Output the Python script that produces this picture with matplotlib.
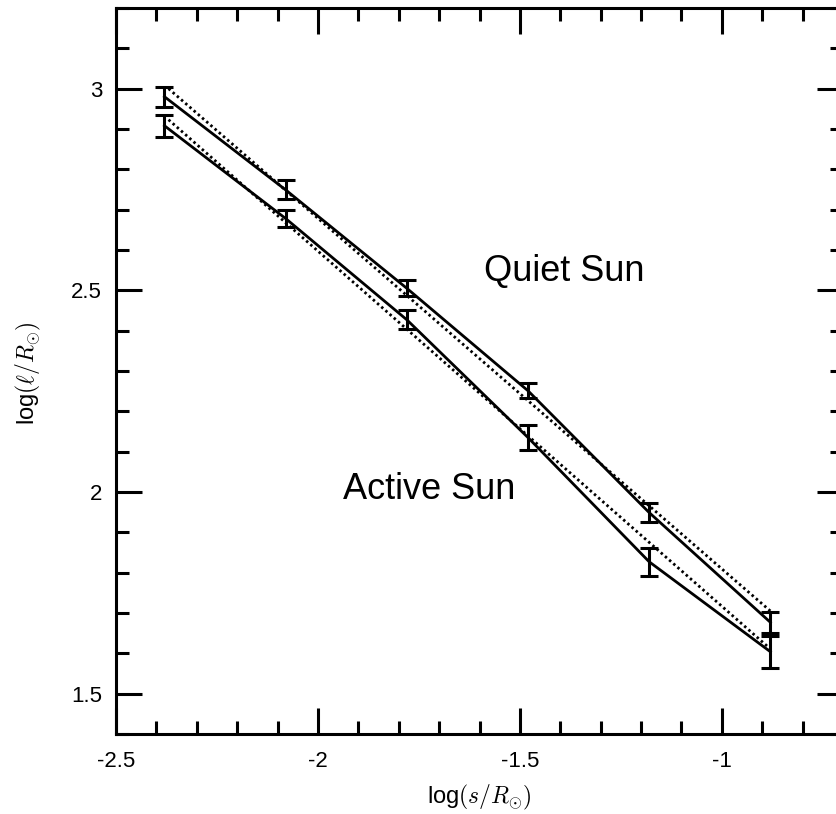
import matplotlib
matplotlib.use('Agg')
import matplotlib.pyplot as plt
from matplotlib.ticker import MultipleLocator

plt.rcParams['font.family'] = ['Liberation Sans', 'DejaVu Sans']
plt.rcParams['mathtext.fontset'] = 'cm'

# data
log_s = [-2.38, -2.08, -1.78, -1.48, -1.18, -0.88]
quiet = [2.980, 2.749, 2.505, 2.251, 1.949, 1.677]
quiet_err = [0.025, 0.0235, 0.020, 0.019, 0.0235, 0.026]
active = [2.908, 2.678, 2.427, 2.135, 1.827, 1.604]
active_err = [0.027, 0.022, 0.0235, 0.031, 0.035, 0.040]

# power-law fits (end points of the dotted lines)
fit_x = [-2.37, -0.88]
quiet_fit = [3.00, 1.705]
active_fit = [2.923, 1.611]

fig = plt.figure(figsize=(8.37, 8.14), dpi=100)
ax = fig.add_axes([0.1386, 0.0983, 0.8686, 0.8919])

ax.errorbar(log_s, quiet, yerr=quiet_err, color='black', lw=2.0,
            elinewidth=2.2, capsize=6.8, capthick=2.2)
ax.errorbar(log_s, active, yerr=active_err, color='black', lw=2.0,
            elinewidth=2.2, capsize=6.8, capthick=2.2)
ax.plot(fit_x, quiet_fit, color='black', lw=2.0, ls=(0, (0.9, 1.1)))
ax.plot(fit_x, active_fit, color='black', lw=2.0, ls=(0, (0.9, 1.1)))

ax.text(-1.391, 2.547, 'Quiet Sun', fontsize=26, ha='center', va='center')
ax.text(-1.725, 2.007, 'Active Sun', fontsize=26, ha='center', va='center')

ax.set_xlim(-2.5, -0.7)
ax.set_ylim(1.4, 3.2)
ax.xaxis.set_major_locator(MultipleLocator(0.5))
ax.xaxis.set_minor_locator(MultipleLocator(0.1))
ax.yaxis.set_major_locator(MultipleLocator(0.5))
ax.yaxis.set_minor_locator(MultipleLocator(0.1))
ax.set_xticks([-2.5, -2, -1.5, -1])
ax.set_xticklabels(['-2.5', '-2', '-1.5', '-1'])
ax.set_yticks([1.5, 2, 2.5, 3])
ax.set_yticklabels(['1.5', '2', '2.5', '3'])

ax.tick_params(which='both', direction='in', top=True, right=True,
               width=2.2, labelsize=16, color='black')
ax.tick_params(which='major', length=18.7)
ax.tick_params(which='minor', length=9.4)
ax.tick_params(axis='x', pad=12)
ax.tick_params(axis='y', pad=10)
for sp in ax.spines.values():
    sp.set_linewidth(2.2)

ax.set_xlabel('log' + r'$(s/R_{\odot})$', fontsize=17, va='center')
ax.xaxis.set_label_coords(0.5, -0.088)
ax.set_ylabel('log' + r'$(\ell/R_{\odot})$', fontsize=17, va='center')
ax.yaxis.set_label_coords(-0.121, 0.497)

fig.savefig('out.png', dpi=100)
